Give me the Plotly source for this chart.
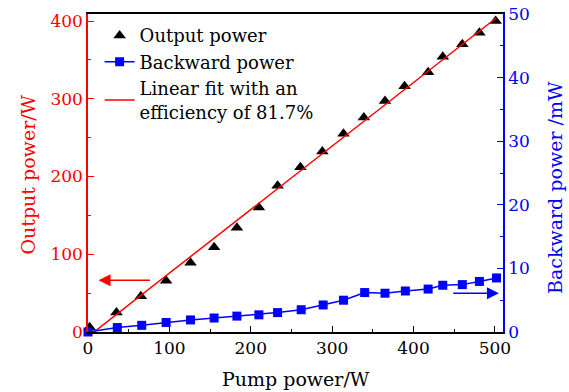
import plotly.graph_objects as go

# ---- data ----
pump_out = [2, 35, 65, 96, 126, 155, 183, 210, 233, 261, 288, 314, 339, 365, 389, 418, 436, 460, 481, 501]
output_power = [6, 25, 46, 66, 89, 109, 134, 160, 188, 212, 232, 255, 276, 297, 316, 334, 354, 370, 385, 400]

pump_back = [0, 36, 66, 96, 126, 155, 183, 210, 233, 262, 289, 314, 340, 365, 390, 418, 436, 460, 481, 502]
backward_power = [0, 0.7, 1.05, 1.5, 1.9, 2.2, 2.5, 2.7, 3.05, 3.5, 4.25, 5.0, 6.2, 6.1, 6.45, 6.75, 7.35, 7.45, 7.95, 8.5]

fit_slope = 0.817
fit_intercept = -6.0
fit_x = [0, 502]
fit_y = [fit_slope * v + fit_intercept for v in fit_x]

x_title = "Pump power/W"
y_title = "Output power/W"
y2_title = "Backward power /mW"

FONT = "DejaVu Serif"
RED = "#ff0000"
BLUE = "#0000ff"

fig = go.Figure()

fig.add_trace(go.Scatter(
    x=pump_out, y=output_power, mode="markers", name="Output power",
    marker=dict(symbol="triangle-up", size=11, color="black"),
    cliponaxis=False, yaxis="y"))

fig.add_trace(go.Scatter(
    x=pump_back, y=backward_power, mode="lines+markers", name="Backward power",
    marker=dict(symbol="square", size=9, color=BLUE),
    line=dict(color=BLUE, width=1.5),
    cliponaxis=False, yaxis="y2"))

fig.add_trace(go.Scatter(
    x=fit_x, y=fit_y, mode="lines", name="Linear fit with an<br>efficiency of 81.7%",
    line=dict(color=RED, width=1.5),
    cliponaxis=False, yaxis="y"))

axis_common = dict(showgrid=False, zeroline=False, showline=True, linewidth=1.5,
                   ticks="inside", ticklen=6, tickwidth=1.2, automargin=False)

fig.update_layout(
    width=569, height=392,
    margin=dict(l=87.5, r=65.7, t=14, b=60.3),
    paper_bgcolor="white", plot_bgcolor="white",
    font=dict(family=FONT, size=17, color="black"),
    showlegend=True,
    legend=dict(x=0.028, y=0.99, xanchor="left", yanchor="top",
                bgcolor="rgba(0,0,0,0)", borderwidth=0,
                font=dict(family=FONT, size=18, color="black"),
                tracegroupgap=0, itemwidth=30),
    xaxis=dict(
        range=[0, 510], linecolor="black", mirror=True, tickcolor="black",
        tickvals=[0, 100, 200, 300, 400, 500],
        minor=dict(ticks="inside", ticklen=3.5, tickvals=[50, 150, 250, 350, 450], tickcolor="black"),
        tickfont=dict(family=FONT, size=17, color="black"),
        **axis_common),
    yaxis=dict(
        range=[0, 409], linecolor=RED, tickcolor=RED,
        tickvals=[0, 100, 200, 300, 400],
        minor=dict(ticks="inside", ticklen=3.5, tickvals=[50, 150, 250, 350], tickcolor=RED),
        tickfont=dict(family=FONT, size=17, color=RED),
        **axis_common),
    yaxis2=dict(
        range=[0, 50], overlaying="y", side="right", linecolor=BLUE, tickcolor=BLUE,
        tickvals=[0, 10, 20, 30, 40, 50],
        minor=dict(ticks="inside", ticklen=3.5, tickvals=[5, 15, 25, 35, 45], tickcolor=BLUE),
        tickfont=dict(family=FONT, size=17, color=BLUE),
        **axis_common),
    annotations=[
        dict(x=13, y=66.5, xref="x", yref="y", ax=78, ay=66.5, axref="x", ayref="y",
             showarrow=True, arrowhead=2, arrowsize=1.6, arrowwidth=1.5, arrowcolor=RED, text=""),
        dict(x=505, y=6.1, xref="x", yref="y2", ax=447, ay=6.1, axref="x", ayref="y2",
             showarrow=True, arrowhead=2, arrowsize=1.6, arrowwidth=1.5, arrowcolor=BLUE, text=""),
        dict(text=x_title, xref="paper", yref="paper", x=0.5, y=0, xanchor="center", yanchor="middle",
             yshift=-46.5, showarrow=False, font=dict(family=FONT, size=19, color="black")),
        dict(text=y_title, xref="paper", yref="paper", x=0, y=0.5, xanchor="center", yanchor="middle",
             xshift=-60.5, yshift=-2, textangle=-90, showarrow=False, font=dict(family=FONT, size=19, color=RED)),
        dict(text=y2_title, xref="paper", yref="paper", x=1, y=0.5, xanchor="center", yanchor="middle",
             xshift=52, yshift=-15, textangle=-90, showarrow=False, font=dict(family=FONT, size=19, color=BLUE)),
    ],
)

fig.write_html("out.html")
